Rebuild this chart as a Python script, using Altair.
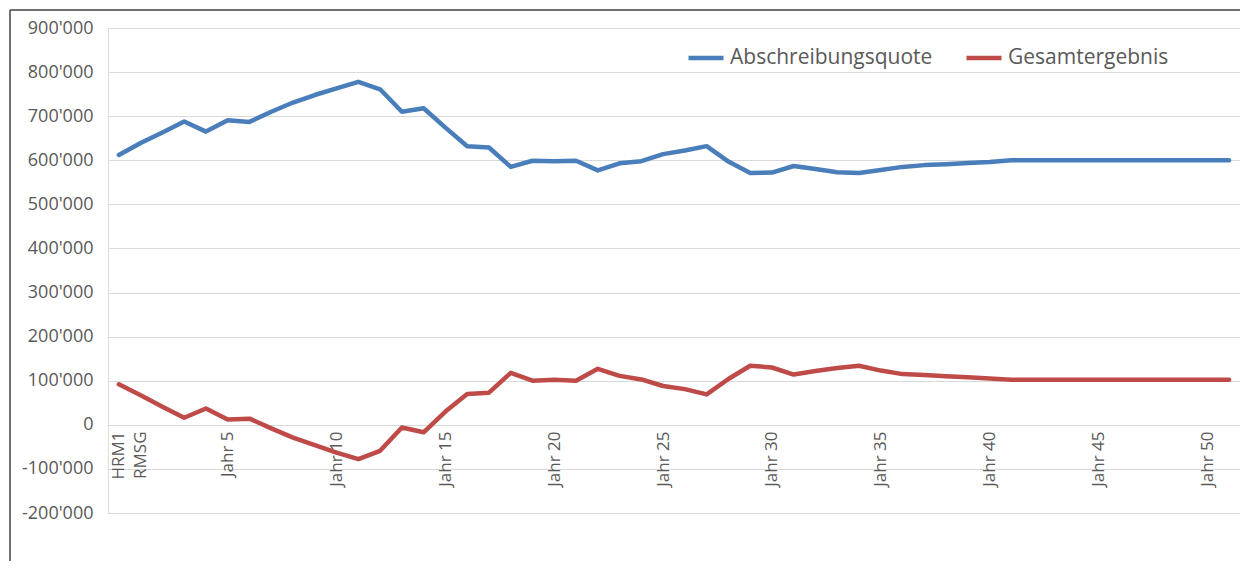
import altair as alt
import pandas as pd

categories = ["HRM1", "RMSG"] + [f"Jahr {i}" for i in range(2, 52)]

abschreibungsquote = [612, 639, 663, 688, 665, 691, 687, 710, 731, 748, 763, 778, 761, 710,
                      718, 674, 632, 629, 585, 599, 598, 599, 577, 593, 598, 614, 622, 632,
                      597, 571, 572, 587, 580, 573, 571, 578, 585, 589, 591, 594, 596, 600,
                      600, 600, 600, 600, 600, 600, 600, 600, 600, 600]
gesamtergebnis = [92, 67, 41, 16, 37, 12, 14, -8, -29, -46, -63, -78, -59, -6,
                  -17, 30, 70, 73, 118, 100, 102, 100, 127, 111, 103, 88, 81, 69,
                  104, 134, 130, 114, 122, 129, 134, 123, 115, 113, 110, 108, 105, 102,
                  102, 102, 102, 102, 102, 102, 102, 102, 102, 102]

series_names = ["Abschreibungsquote", "Gesamtergebnis"]
series_colors = ["#4a7ebb", "#be4b48"]
shown_labels = ["HRM1", "RMSG"] + [f"Jahr {i}" for i in range(5, 51, 5)]
y_ticks = list(range(-200000, 900001, 100000))

rows = []
for c, a, g in zip(categories, abschreibungsquote, gesamtergebnis):
    rows.append({"Kategorie": c, "Serie": series_names[0], "Wert": a * 1000})
    rows.append({"Kategorie": c, "Serie": series_names[1], "Wert": g * 1000})
df = pd.DataFrame(rows)

FONT = "Open Sans"
TXT = "#595959"

label_list = "[" + ",".join(f"'{s}'" for s in shown_labels) + "]"

lines = alt.Chart(df).mark_line(strokeWidth=4.5, strokeCap="round", strokeJoin="round").encode(
    x=alt.X("Kategorie:N", sort=categories,
            scale=alt.Scale(type="point", padding=0.5),
            axis=alt.Axis(title=None, labelAngle=270, labelOverlap=False, ticks=False,
                          domain=False, grid=False, offset=-88, labelPadding=6,
                          labelFont=FONT, labelFontSize=17, labelColor=TXT,
                          labelExpr=f"indexof({label_list}, datum.value) >= 0 ? datum.value : ''")),
    y=alt.Y("Wert:Q", scale=alt.Scale(domain=[-200000, 900000], nice=False, zero=False),
            axis=alt.Axis(title=None, values=y_ticks, ticks=False, domain=False,
                          gridColor="#d9d9d9", gridWidth=1, labelPadding=15,
                          labelFont=FONT, labelFontSize=18, labelColor=TXT,
                          labelExpr="(datum.value < 0 ? '-' : '') + replace(format(abs(datum.value), ','), regexp(',', 'g'), \"'\")")),
    color=alt.Color("Serie:N", sort=series_names,
                    scale=alt.Scale(domain=series_names, range=series_colors),
                    legend=alt.Legend(title=None, orient="none", legendX=578, legendY=10,
                                      direction="horizontal", symbolType="stroke",
                                      symbolStrokeWidth=4.5, symbolSize=1225,
                                      labelFont=FONT, labelFontSize=21, labelColor=TXT,
                                      labelLimit=400, labelOffset=4, columnPadding=24)),
)

frame_df = pd.DataFrame({"a": [0]})
frame_left = alt.Chart(frame_df).mark_rule(color="#404040", strokeWidth=1.5).encode(
    x=alt.value(-98), y=alt.value(-18), y2=alt.value(700))
frame_top = alt.Chart(frame_df).mark_rule(color="#404040", strokeWidth=1.5).encode(
    x=alt.value(-98), x2=alt.value(1400), y=alt.value(-18))

chart = alt.layer(frame_left, frame_top, lines).properties(
    width=1132, height=485, autosize="none",
    padding={"left": 100, "top": 20, "right": 0, "bottom": 48},
).configure_view(stroke=None).configure(background="white")

chart.save("out.html", embed_options={"renderer": "svg", "actions": False})
